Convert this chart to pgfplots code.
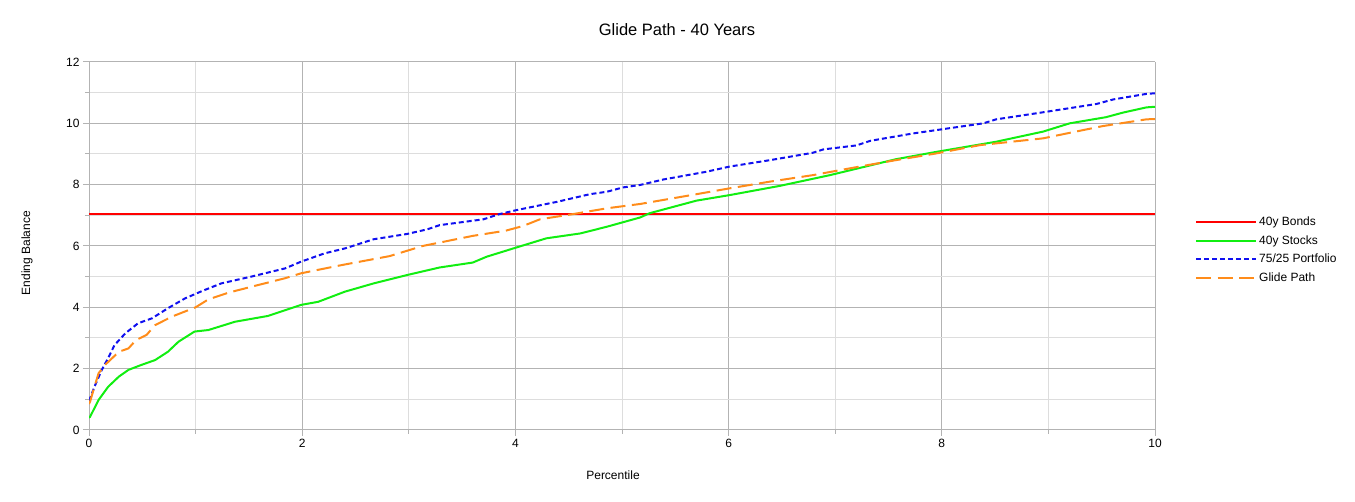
\documentclass[border=0pt]{standalone}
\usepackage{pgfplots}
\pgfplotsset{compat=1.18}
\usepackage{fontspec}
\setmainfont{Liberation Sans}
\definecolor{cRed}{HTML}{FF0000}
\definecolor{cGreen}{HTML}{11EE11}
\definecolor{cBlue}{HTML}{1010F0}
\definecolor{cOrange}{HTML}{FF8C1A}
\definecolor{gMaj}{HTML}{B3B3B3}
\definecolor{gMin}{HTML}{DDDDDD}
\begin{document}
\begin{tikzpicture}
\useasboundingbox (0pt,0pt) rectangle (1355pt,502pt);
\node[font=\fontsize{16.5}{19}\selectfont] at (677pt,472pt) {Glide Path - 40 Years};
\node[font=\fontsize{12}{14}\selectfont, rotate=90] at (27pt,249pt) {Ending Balance};
\node[font=\fontsize{12}{14}\selectfont] at (613pt,27pt) {Percentile};
\begin{axis}[
  at={(89pt,72pt)}, anchor=south west,
  scale only axis, width=1066pt, height=368pt,
  xmin=0, xmax=10, ymin=0, ymax=12,
  xtick={0,2,...,10}, ytick={0,2,...,12},
  minor xtick={1,3,5,7,9}, minor ytick={1,3,...,11},
  grid=both,
  major grid style={draw=gMaj, line width=1pt},
  minor grid style={draw=gMin, line width=1pt},
  axis line style={draw=gMaj, line width=1pt},
  axis x line*=bottom, axis y line*=left,
  every tick/.style={draw=gMaj, line width=1pt},
  tick align=outside,
  major tick length=6pt, minor tick length=4pt,
  xtick pos=bottom, ytick pos=left,
  tick label style={font=\fontsize{12}{14}\selectfont},
  /pgf/number format/assume math mode=true,
  legend style={at={(1.0375,0.489)}, anchor=west, draw=none, fill=none,
    font=\fontsize{12}{14}\selectfont, row sep=4.5pt, inner sep=0pt},
  legend cell align=left,
  legend image code/.code={\draw[#1] (0pt,0pt) -- (60pt,0pt);},
]
\addplot[cRed, line width=2pt] coordinates {(0,7.04) (10,7.04)};
\addlegendentry{40y Bonds}
\addplot[cGreen, line width=2pt] coordinates {
(0,0.4)(0.01,0.43)(0.09,0.98)(0.18,1.41)(0.28,1.74)(0.37,1.96)(0.49,2.12)(0.62,2.28)(0.74,2.55)(0.84,2.88)(0.99,3.21)(1.12,3.26)(1.37,3.53)(1.68,3.72)(1.99,4.08)(2.15,4.18)(2.40,4.51)(2.67,4.78)(2.98,5.05)(3.29,5.30)(3.60,5.46)(3.73,5.65)(3.98,5.92)(4.29,6.25)(4.61,6.41)(4.86,6.63)(5.17,6.93)(5.26,7.07)(5.70,7.48)(6.01,7.66)(6.48,7.96)(6.95,8.31)(7.57,8.83)(7.95,9.07)(8.51,9.40)(8.95,9.73)(9.20,10.0)(9.54,10.20)(9.70,10.35)(9.92,10.52)(10,10.54)
};
\addlegendentry{40y Stocks}
\addplot[cBlue, line width=2pt, dash pattern=on 5pt off 3pt] coordinates {
(0,0.95)(0.01,1.03)(0.05,1.4)(0.12,1.96)(0.18,2.35)(0.24,2.77)(0.34,3.15)(0.46,3.48)(0.59,3.64)(0.74,3.97)(0.9,4.29)(1.06,4.53)(1.24,4.78)(1.52,5.0)(1.84,5.27)(1.99,5.49)(2.21,5.76)(2.4,5.92)(2.67,6.22)(2.98,6.39)(3.17,6.54)(3.29,6.68)(3.70,6.87)(3.85,7.04)(4.01,7.17)(4.39,7.44)(4.70,7.69)(4.86,7.77)(5.01,7.91)(5.17,7.99)(5.39,8.17)(5.79,8.42)(6.01,8.59)(6.39,8.80)(6.79,9.04)(6.89,9.15)(7.20,9.28)(7.33,9.43)(7.73,9.67)(7.95,9.78)(8.39,10.0)(8.51,10.13)(8.95,10.36)(9.45,10.63)(9.61,10.78)(9.92,10.96)(10,10.98)
};
\addlegendentry{75/25 Portfolio}
\addplot[cOrange, line width=2pt, dash pattern=on 15pt off 6.5pt] coordinates {
(0,0.85)(0.01,0.92)(0.05,1.4)(0.09,1.85)(0.15,2.12)(0.28,2.55)(0.37,2.66)(0.44,2.93)(0.54,3.10)(0.62,3.42)(0.78,3.70)(1.0,4.0)(1.12,4.26)(1.31,4.48)(1.59,4.73)(1.84,4.95)(1.99,5.11)(2.33,5.35)(2.42,5.41)(2.82,5.67)(3.13,6.0)(3.60,6.33)(3.91,6.50)(4.07,6.65)(4.23,6.87)(4.54,7.04)(4.86,7.23)(5.17,7.37)(5.70,7.69)(6.01,7.88)(6.39,8.10)(6.79,8.31)(7.26,8.61)(7.57,8.80)(7.95,9.02)(8.36,9.29)(8.95,9.51)(9.20,9.69)(9.51,9.91)(9.92,10.13)(10,10.14)
};
\addlegendentry{Glide Path}
\end{axis}
\end{tikzpicture}
\end{document}
